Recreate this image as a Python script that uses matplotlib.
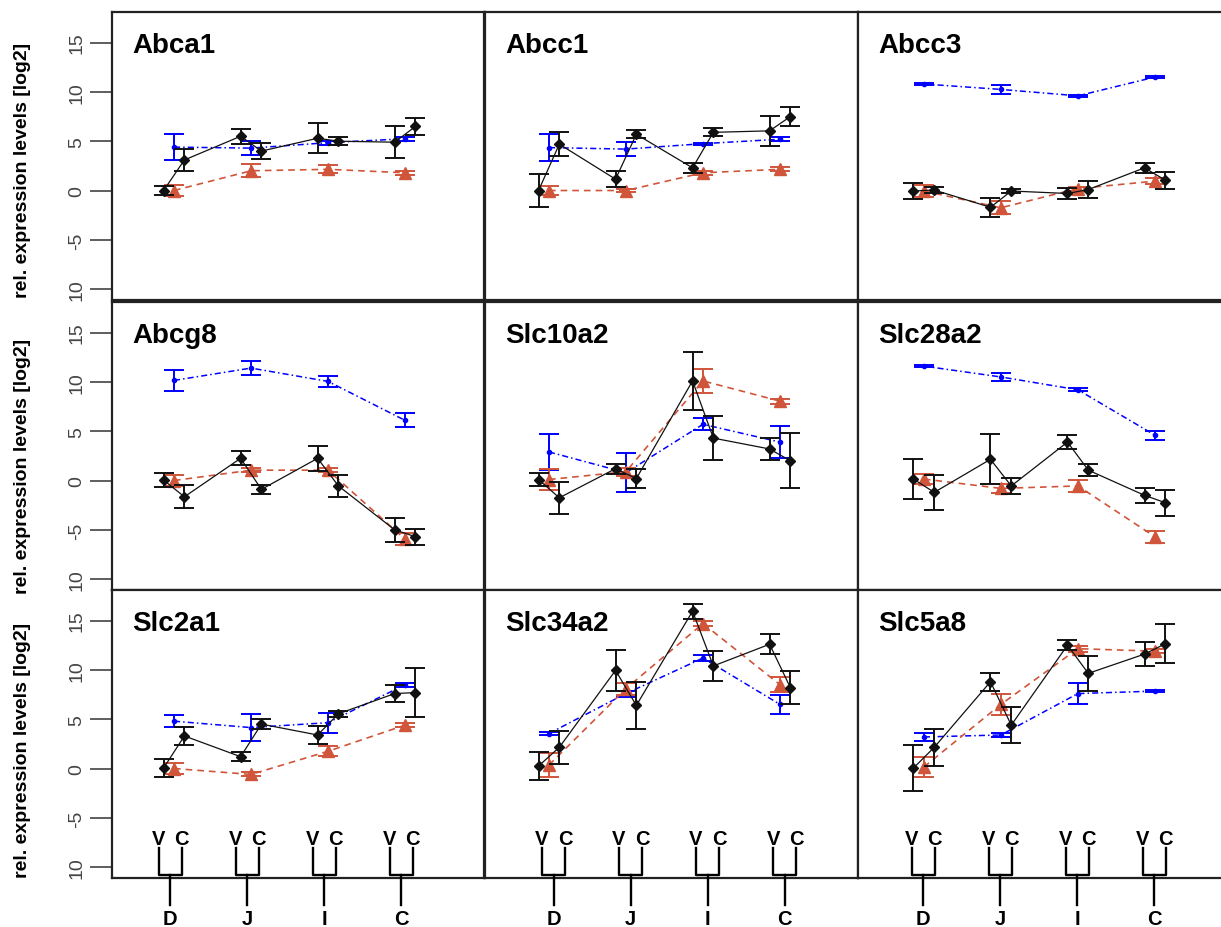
import numpy as np
import matplotlib.pyplot as plt

plt.rcParams['font.family'] = ['Liberation Sans', 'DejaVu Sans']

genes = ['Abca1', 'Abcc1', 'Abcc3',
         'Abcg8', 'Slc10a2', 'Slc28a2',
         'Slc2a1', 'Slc34a2', 'Slc5a8']
segments = ['D', 'J', 'I', 'C']
pair_labels = ['V', 'C']
ytick_vals = [-10, -5, 0, 5, 10, 15]
ytick_text = ['10', '-5', '0', '5', '10', '15']
ylab = 'rel. expression levels [log2]'

# black series: V then C for each segment D, J, I, C
black_mean = {
    'Abca1':   [0.0, 3.1, 5.5, 4.0, 5.3, 5.0, 4.9, 6.5],
    'Abcc1':   [0.0, 4.7, 1.15, 5.7, 2.3, 5.9, 6.05, 7.5],
    'Abcc3':   [-0.05, 0.05, -1.7, -0.05, -0.3, 0.1, 2.3, 1.05],
    'Abcg8':   [0.05, -1.65, 2.25, -0.9, 2.25, -0.55, -5.0, -5.7],
    'Slc10a2': [0.1, -1.75, 1.2, 0.2, 10.1, 4.3, 3.2, 2.0],
    'Slc28a2': [0.15, -1.2, 2.15, -0.55, 3.9, 1.05, -1.5, -2.25],
    'Slc2a1':  [0.05, 3.3, 1.2, 4.5, 3.4, 5.55, 7.6, 7.7],
    'Slc34a2': [0.25, 2.15, 9.95, 6.4, 15.95, 10.4, 12.6, 8.2],
    'Slc5a8':  [0.05, 2.15, 8.8, 4.4, 12.5, 9.65, 11.6, 12.65],
}
black_err = {
    'Abca1':   [0.5, 1.1, 0.75, 0.8, 1.5, 0.4, 1.6, 0.9],
    'Abcc1':   [1.7, 1.2, 0.8, 0.4, 0.5, 0.4, 1.5, 1.0],
    'Abcc3':   [0.8, 0.3, 0.95, 0.2, 0.55, 0.85, 0.5, 0.85],
    'Abcg8':   [0.7, 1.15, 0.7, 0.45, 1.3, 1.1, 1.25, 0.8],
    'Slc10a2': [0.7, 1.65, 0.5, 0.95, 2.95, 2.2, 1.15, 2.8],
    'Slc28a2': [2.0, 1.75, 2.55, 0.85, 0.75, 0.6, 0.75, 1.3],
    'Slc2a1':  [0.95, 0.95, 0.45, 0.5, 0.95, 0.3, 0.85, 2.45],
    'Slc34a2': [1.4, 1.7, 2.1, 2.4, 0.75, 1.55, 1.0, 1.7],
    'Slc5a8':  [2.3, 1.9, 0.9, 1.85, 0.5, 1.8, 1.25, 2.0],
}

red_mean = {
    'Abca1':   [0.0, 2.0, 2.15, 1.8],
    'Abcc1':   [0.0, 0.0, 1.8, 2.15],
    'Abcc3':   [-0.05, -1.75, 0.2, 0.95],
    'Abcg8':   [0.0, 1.05, 1.05, -5.95],
    'Slc10a2': [0.1, 0.9, 10.1, 8.05],
    'Slc28a2': [0.15, -0.8, -0.55, -5.7],
    'Slc2a1':  [0.0, -0.6, 1.75, 4.4],
    'Slc34a2': [0.35, 8.1, 14.7, 8.5],
    'Slc5a8':  [0.15, 6.5, 12.15, 11.9],
}
red_err = {
    'Abca1':   [0.6, 0.65, 0.4, 0.2],
    'Abcc1':   [0.45, 0.15, 0.2, 0.2],
    'Abcc3':   [0.6, 0.65, 0.2, 0.3],
    'Abcg8':   [0.6, 0.2, 0.2, 0.6],
    'Slc10a2': [1.1, 0.4, 1.2, 0.25],
    'Slc28a2': [0.55, 0.45, 0.65, 0.6],
    'Slc2a1':  [0.55, 0.2, 0.5, 0.2],
    'Slc34a2': [1.25, 0.6, 0.3, 0.75],
    'Slc5a8':  [1.0, 1.05, 0.3, 0.2],
}

blue_mean = {
    'Abca1':   [4.4, 4.3, 4.85, 5.25],
    'Abcc1':   [4.35, 4.2, 4.75, 5.2],
    'Abcc3':   [10.8, 10.25, 9.6, 11.5],
    'Abcg8':   [10.15, 11.4, 10.05, 6.1],
    'Slc10a2': [2.9, 0.8, 5.7, 3.9],
    'Slc28a2': [11.6, 10.5, 9.2, 4.6],
    'Slc2a1':  [4.8, 4.15, 4.65, 8.5],
    'Slc34a2': [3.55, 7.6, 11.2, 6.5],
    'Slc5a8':  [3.2, 3.4, 7.6, 7.85],
}
blue_err = {
    'Abca1':   [1.3, 0.7, 0.2, 0.2],
    'Abcc1':   [1.35, 0.75, 0.1, 0.2],
    'Abcc3':   [0.1, 0.45, 0.1, 0.1],
    'Abcg8':   [1.1, 0.7, 0.55, 0.7],
    'Slc10a2': [1.8, 2.0, 0.6, 1.6],
    'Slc28a2': [0.1, 0.4, 0.15, 0.45],
    'Slc2a1':  [0.6, 1.4, 1.0, 0.2],
    'Slc34a2': [0.2, 0.3, 0.3, 0.95],
    'Slc5a8':  [0.45, 0.2, 1.1, 0.1],
}

W, H = 1221, 928
fig = plt.figure(figsize=(W / 100, H / 100), dpi=100)

col_px = [(112, 484), (485, 858), (858, 1232)]
row_px = [(13, 301), (303, 591), (591, 879)]
xleft = [0.195, 0.17, 0.145]
# bracket offsets (V, C) per column, relative to group position
brk = [(-0.2, 0.1), (-0.09, 0.21), (-0.16, 0.14)]
ylo, yhi = -11.1, 18.1
red_c = '#D0553A'
blue_c = '#0000FF'

g = np.arange(1, 5)
xk = np.ravel(np.column_stack([g - 0.135, g + 0.135]))

for i, gene in enumerate(genes):
    r, c = divmod(i, 3)
    x0, x1 = col_px[c]
    y0, y1 = row_px[r]
    ax = fig.add_axes([x0 / W, 1 - y1 / H, (x1 - x0) / W, (y1 - y0) / H])
    ax.set_xlim(xleft[c], xleft[c] + 4.83 * (x1 - x0) / 372)
    ax.set_ylim(ylo, yhi)
    for s in ax.spines.values():
        s.set_linewidth(1.6)
        s.set_color('#222222')
    ax.set_xticks([])

    ax.errorbar(g, blue_mean[gene], yerr=blue_err[gene], color=blue_c,
                ls=(0, (4, 2, 1, 2)), lw=1.1, marker='o', ms=3,
                capsize=7, elinewidth=1.4, capthick=1.4, zorder=2)
    ax.errorbar(g, red_mean[gene], yerr=red_err[gene], color=red_c,
                ls=(0, (4, 3)), lw=1.2, marker='^', ms=8,
                capsize=7, elinewidth=1.4, capthick=1.4, zorder=3)
    ax.errorbar(xk, black_mean[gene], yerr=black_err[gene], color='#111111',
                ls='-', lw=0.9, marker='D', ms=5.5,
                capsize=7, elinewidth=1.4, capthick=1.4, zorder=4)

    ax.text(0.055, 0.862, gene, transform=ax.transAxes, fontsize=20,
            fontweight='bold', ha='left', va='baseline')

    if c == 0:
        ax.set_yticks(ytick_vals)
        ax.set_yticklabels(ytick_text, rotation=90, va='center',
                           fontsize=14, color='#444444')
        ax.tick_params(axis='y', length=16, width=1.1, pad=3,
                       color='#333333')
    else:
        ax.set_yticks([])

    if r == 2:
        dv, dc = brk[c]
        for k, seg in enumerate(segments):
            xv, xc = g[k] + dv, g[k] + dc
            xm = (xv + xc) / 2
            ax.plot([xv, xv, xc, xc], [-8.1, -10.8, -10.8, -8.1],
                    color='black', lw=1.7, clip_on=False, zorder=5)
            ax.plot([xm, xm], [-10.8, -13.8], color='black', lw=1.7,
                    clip_on=False, zorder=5)
            ax.text(xv, -7.1, pair_labels[0], fontsize=14.5, fontweight='bold',
                    ha='center', va='center')
            ax.text(xc, -7.1, pair_labels[1], fontsize=14.5, fontweight='bold',
                    ha='center', va='center')
            ax.text(xm, -15.2, seg, fontsize=14.5, fontweight='bold',
                    ha='center', va='center', clip_on=False)

for yc in [170, 466, 750]:
    fig.text(23 / W, 1 - yc / H, ylab, rotation=90, fontsize=14,
             fontweight='bold', ha='center', va='center')

fig.savefig('out.png', dpi=100)
